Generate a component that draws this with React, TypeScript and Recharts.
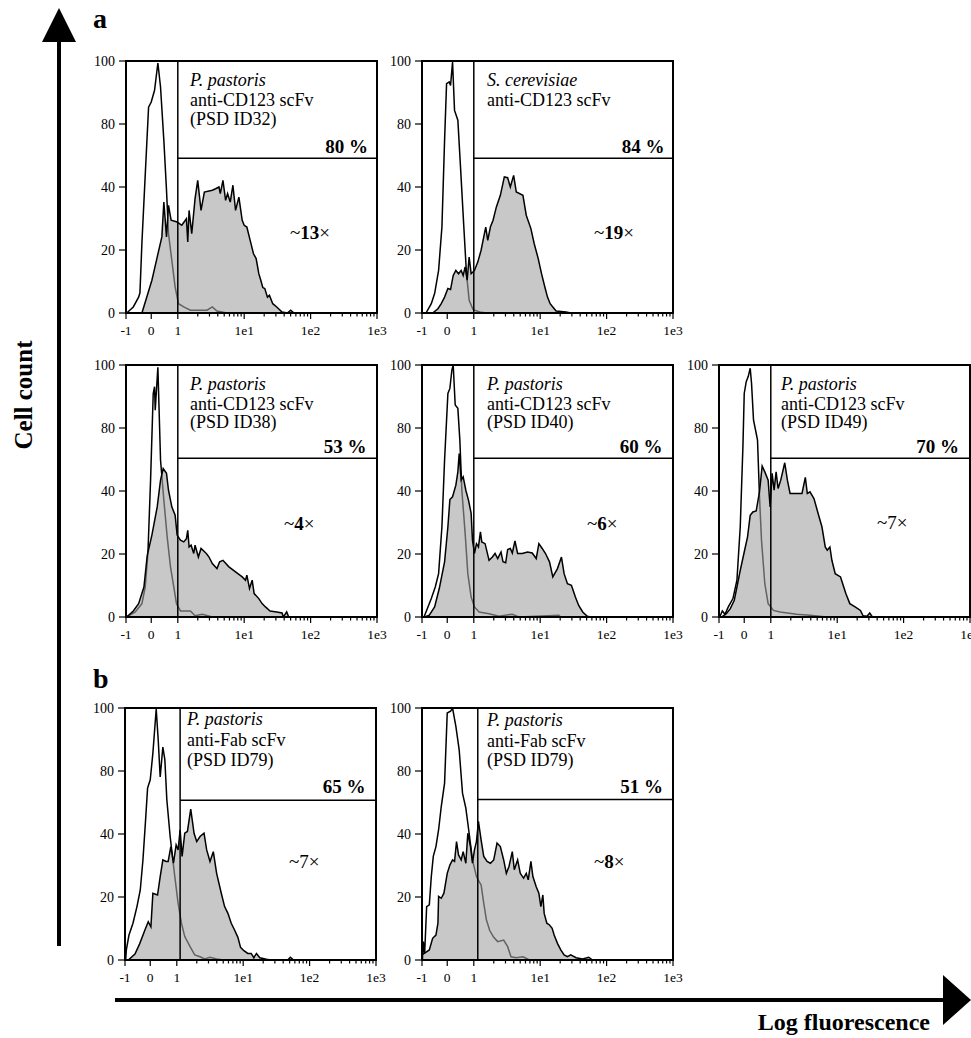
import { ComposedChart, Area, XAxis, YAxis, ReferenceLine, ReferenceArea } from 'recharts';

const FONT = '"Liberation Serif", "Times New Roman", Times, serif';

type Pt = [number, number];

// x is in "decade units": -1 -> -0.78, 0 -> -0.4, 1 -> 0, 1e1 -> 1, 1e2 -> 2, 1e3 -> 3
const U_MIN = -0.78;
const U_MAX = 3;
const X_MAJOR = [-0.78, -0.4, 0, 1, 2, 3];
const X_LABELS = ['-1', '0', '1', '1e1', '1e2', '1e3'];
const X_MINOR = [0, 1, 2].flatMap((d) => [2, 3, 4, 5, 6, 7, 8, 9].map((k) => d + Math.log10(k)));
const X_TICKS = [...X_MAJOR, ...X_MINOR];

// y ticks as printed on the figure
const Y_TICKS = [0, 25, 50, 75, 100];
const Y_LABELS = ['0', '20', '40', '80', '100'];

// control (unstained) and sample (filled) histograms, [x, count]
const p1Control: Pt[] = [[-0.77,0],[-0.67,2.4],[-0.59,6.3],[-0.57,8],[-0.54,28],[-0.49,55],[-0.44,81.7],[-0.4,83.7],[-0.35,88.4],[-0.3,99.2],[-0.26,89.7],[-0.21,68.5],[-0.17,48.7],[-0.14,31.5],[-0.09,20.9],[-0.04,10.3],[0.01,3.7],[0.09,2.4],[0.19,1.1],[0.44,1.1],[0.52,2.4],[0.59,0.8],[0.74,0]];
const p1Sample: Pt[] = [[-0.54,0],[-0.39,13],[-0.31,22.2],[-0.24,30.2],[-0.21,44],[-0.17,30.2],[-0.14,42.7],[-0.1,36.8],[-0.01,36.1],[0.06,34.8],[0.13,37.4],[0.15,28.2],[0.17,40.7],[0.21,31.5],[0.26,45.4],[0.3,52.6],[0.35,40.7],[0.4,48],[0.52,48.7],[0.57,49.3],[0.62,50],[0.64,47.4],[0.68,52.6],[0.72,44.7],[0.75,47.4],[0.79,44],[0.83,50.7],[0.87,40.7],[0.92,46],[0.97,36.8],[1,34.8],[1.04,34.1],[1.09,28.8],[1.14,23.5],[1.18,21.6],[1.22,15.6],[1.25,13],[1.28,10.1],[1.31,9.7],[1.35,6.3],[1.38,7],[1.43,3.7],[1.49,2.4],[1.57,0.4],[1.65,0],[1.7,1.1],[1.75,0]];

const p2Control: Pt[] = [[-0.72,0],[-0.64,3.7],[-0.59,7.7],[-0.53,16.9],[-0.48,34.1],[-0.44,68.5],[-0.41,91],[-0.37,91.7],[-0.35,90.3],[-0.32,99.6],[-0.29,80.4],[-0.24,76.5],[-0.2,57.9],[-0.15,34.1],[-0.11,15.6],[-0.07,5],[-0.01,1.3],[0.09,0.4],[0.19,0]];
const p2Sample: Pt[] = [[-0.62,0],[-0.54,1.7],[-0.49,3.7],[-0.44,6.3],[-0.39,9.7],[-0.35,9.3],[-0.31,14.9],[-0.27,16.9],[-0.23,15.6],[-0.19,16.9],[-0.16,14.9],[-0.13,18.3],[-0.1,13],[-0.07,22.2],[-0.04,15.6],[0.01,16.9],[0.06,20.2],[0.11,24.9],[0.15,30.2],[0.18,34.1],[0.21,28.8],[0.25,34.1],[0.29,36.8],[0.34,42.1],[0.4,46.7],[0.46,54],[0.51,53.7],[0.55,50],[0.6,54.6],[0.64,48],[0.74,46.7],[0.79,38.8],[0.86,33.5],[0.91,27.5],[0.97,21.6],[1.02,15.6],[1.07,10.3],[1.11,6.3],[1.15,3.7],[1.19,2.4],[1.24,0.8],[1.39,0.4],[1.46,0]];

const p3Control: Pt[] = [[-0.77,0],[-0.64,2],[-0.54,5.3],[-0.49,11.9],[-0.45,25.2],[-0.41,54.3],[-0.37,88.7],[-0.35,91.4],[-0.34,82.1],[-0.3,99.1],[-0.26,62.3],[-0.21,46.4],[-0.16,31.8],[-0.11,19.9],[-0.06,11.9],[-0.02,5.3],[0.04,2.4],[0.19,2.4],[0.26,0.5],[0.37,1.1],[0.52,0]];
const p3Sample: Pt[] = [[-0.77,0],[-0.67,2.4],[-0.59,5.3],[-0.51,11.9],[-0.46,24.5],[-0.39,32.5],[-0.31,43.7],[-0.26,54.3],[-0.22,58.9],[-0.17,57],[-0.14,50.3],[-0.09,43.7],[-0.04,40.4],[-0.01,32.5],[0.04,30.5],[0.09,29.8],[0.13,31.1],[0.15,34.4],[0.17,27.8],[0.2,28.5],[0.24,25.2],[0.26,28.5],[0.31,23.8],[0.35,27.2],[0.43,25.2],[0.47,23.8],[0.52,21.2],[0.59,19.2],[0.63,21.9],[0.68,22.5],[0.77,19.9],[0.87,17.9],[0.97,15.9],[1.02,14.6],[1.04,16.6],[1.08,11.3],[1.12,14.6],[1.15,9.3],[1.22,7.3],[1.27,5.3],[1.32,4],[1.39,2.4],[1.49,2],[1.57,1.6],[1.59,0],[1.64,2],[1.67,0]];

const p4Control: Pt[] = [[-0.75,0],[-0.69,4],[-0.64,7.3],[-0.58,11.9],[-0.53,17.2],[-0.48,35.8],[-0.44,62.3],[-0.39,88.7],[-0.36,90.7],[-0.33,98],[-0.31,100],[-0.28,84.1],[-0.24,82.8],[-0.21,70.2],[-0.18,50.3],[-0.13,33.1],[-0.09,17.2],[-0.04,7.9],[0.01,4],[0.08,2],[0.23,1.3],[0.38,0.3],[0.58,1.1],[0.68,0],[1.28,0.7],[1.31,0]];
const p4Sample: Pt[] = [[-0.74,0],[-0.67,0.7],[-0.59,4],[-0.52,11.3],[-0.44,21.9],[-0.39,35.8],[-0.36,46.6],[-0.32,47.7],[-0.27,52.3],[-0.24,57.6],[-0.22,64.9],[-0.19,54.3],[-0.16,55.6],[-0.12,50.3],[-0.08,46.4],[-0.04,41.1],[-0.02,30.5],[0.01,25.2],[0.04,29.1],[0.07,27.8],[0.1,33.8],[0.12,29.8],[0.17,29.1],[0.23,22.5],[0.28,23.8],[0.32,25.2],[0.36,23.2],[0.41,25.8],[0.44,21.9],[0.48,21.5],[0.51,26.8],[0.55,27.2],[0.58,25.4],[0.62,30.2],[0.66,25.2],[0.73,25.2],[0.81,25.8],[0.88,25.4],[0.94,23.2],[0.98,29.1],[1.03,27.2],[1.08,25.2],[1.14,21.9],[1.19,15.9],[1.26,19.2],[1.32,23.8],[1.36,17.2],[1.41,13.2],[1.47,12.6],[1.53,7.9],[1.58,4.6],[1.64,2],[1.71,0.3],[1.76,0]];

const p5Control: Pt[] = [[-0.77,0],[-0.73,2.4],[-0.69,1.1],[-0.64,4],[-0.57,7.3],[-0.51,14.6],[-0.46,35.8],[-0.42,67.5],[-0.4,88.7],[-0.37,93.4],[-0.34,95.4],[-0.31,98.7],[-0.29,92.7],[-0.26,78.1],[-0.23,74.2],[-0.2,70.2],[-0.17,47.7],[-0.14,30.5],[-0.09,13.2],[-0.04,5.3],[0.04,2.6],[0.14,2],[0.39,1.1],[0.59,0.7],[0.84,0]];
const p5Sample: Pt[] = [[-0.74,0],[-0.67,1.3],[-0.61,3.3],[-0.55,6.6],[-0.51,11.9],[-0.46,18.5],[-0.4,25.8],[-0.35,31.8],[-0.31,40.4],[-0.27,41.7],[-0.22,42.1],[-0.17,49.7],[-0.13,59.9],[-0.09,57.6],[-0.04,54.3],[-0.01,43.7],[0.02,57],[0.05,50.3],[0.08,57.6],[0.11,51],[0.15,54.3],[0.21,61.2],[0.25,54.3],[0.29,49],[0.47,49],[0.52,55.4],[0.55,49],[0.59,49.7],[0.65,47],[0.72,40.4],[0.77,35.8],[0.82,27.8],[0.85,26.5],[0.89,27.8],[0.92,22.5],[0.97,17.2],[1.05,15.9],[1.09,12.6],[1.13,9.3],[1.19,5.3],[1.27,4],[1.35,2.6],[1.39,0.5],[1.45,0.3],[1.49,1.6],[1.53,0]];

const p6Control: Pt[] = [[-0.77,0],[-0.76,4],[-0.72,9.9],[-0.66,14.6],[-0.6,21.2],[-0.55,27.8],[-0.51,39.7],[-0.47,55.6],[-0.44,68.2],[-0.4,71.5],[-0.36,82.1],[-0.31,99.6],[-0.28,87.4],[-0.25,72.6],[-0.21,84.5],[-0.18,79.5],[-0.15,63.6],[-0.1,49],[-0.03,33.1],[0.02,22.5],[0.07,14.6],[0.12,9.3],[0.2,5.3],[0.27,2],[0.35,1.3],[0.42,0.4],[0.5,1.1],[0.6,0.4],[0.7,0]];
const p6Sample: Pt[] = [[-0.73,0],[-0.63,2.4],[-0.56,6.4],[-0.48,11.9],[-0.43,15.2],[-0.39,13.2],[-0.36,26.5],[-0.29,25.8],[-0.25,33.1],[-0.21,39.7],[-0.16,39.1],[-0.13,39.1],[-0.09,45],[-0.05,38.4],[-0.01,45.7],[0.02,43.7],[0.05,51.7],[0.08,41.1],[0.12,50.3],[0.16,51],[0.21,59.9],[0.26,50.3],[0.3,47],[0.35,49],[0.41,50.3],[0.45,43.7],[0.5,39.1],[0.55,43],[0.6,34.4],[0.67,26.5],[0.72,21.2],[0.77,18.5],[0.82,14.6],[0.87,11.9],[0.92,9],[0.96,5],[1.01,3.7],[1.07,2.6],[1.12,2.6],[1.16,0.9],[1.2,2.6],[1.25,0.9],[1.35,0.3],[1.42,0],[1.67,0],[1.71,1.1],[1.76,0]];

const p7Control: Pt[] = [[-0.77,0],[-0.76,7.3],[-0.74,2.6],[-0.71,21.2],[-0.67,21.9],[-0.64,33.1],[-0.61,41.1],[-0.57,45],[-0.53,51.7],[-0.49,60.9],[-0.44,70.2],[-0.4,98],[-0.35,98.7],[-0.32,100],[-0.27,92.7],[-0.22,83.4],[-0.17,66.2],[-0.12,60.3],[-0.07,50.3],[-0.02,39.7],[0.04,33.1],[0.08,31.1],[0.11,29.8],[0.15,22.5],[0.19,15.9],[0.24,11.7],[0.3,9],[0.36,7.3],[0.45,7.9],[0.51,5.3],[0.56,1.3],[0.64,0.9],[0.74,1.3],[0.84,0]];
const p7Sample: Pt[] = [[-0.78,2],[-0.67,4],[-0.62,8.6],[-0.57,9.9],[-0.54,14.6],[-0.53,25.2],[-0.49,24.5],[-0.45,26.5],[-0.4,34.4],[-0.36,37.7],[-0.32,39.7],[-0.29,39.1],[-0.26,47],[-0.23,41.7],[-0.19,39.7],[-0.16,43],[-0.12,38.4],[-0.09,50.3],[-0.05,45],[-0.02,38.4],[0.01,43.7],[0.04,47],[0.07,55],[0.11,47.7],[0.15,41.1],[0.2,39.1],[0.25,38.4],[0.3,39.7],[0.35,46.4],[0.4,45],[0.45,39.7],[0.49,34.4],[0.53,37.1],[0.58,43],[0.61,35.8],[0.66,39.7],[0.7,34.4],[0.75,32.5],[0.79,34.4],[0.82,31.8],[0.86,39.1],[0.89,33.1],[0.94,29.1],[0.98,26.5],[1.01,21.2],[1.04,25.8],[1.06,18.5],[1.1,14.6],[1.14,13.9],[1.18,12.6],[1.21,9.9],[1.26,6.6],[1.31,4],[1.36,2],[1.41,1.3],[1.46,2],[1.54,0.9],[1.64,0.4],[1.73,1.1],[1.79,0]];

// gate positions
const gateX = [0, 0, 0, 0, 0, 0.05, 0.06];
const gateY = [61.4, 61.4, 63, 63, 63, 63.4, 63.7];

// annotation texts
const species = ['P. pastoris', 'S. cerevisiae', 'P. pastoris', 'P. pastoris', 'P. pastoris', 'P. pastoris', 'P. pastoris'];
const construct = ['anti-CD123 scFv', 'anti-CD123 scFv', 'anti-CD123 scFv', 'anti-CD123 scFv', 'anti-CD123 scFv', 'anti-Fab scFv', 'anti-Fab scFv'];
const psdId = ['(PSD ID32)', '', '(PSD ID38)', '(PSD ID40)', '(PSD ID49)', '(PSD ID79)', '(PSD ID79)'];
const percent = ['80 %', '84 %', '53 %', '60 %', '70 %', '65 %', '51 %'];
const fold = ['13', '19', '4', '6', '7', '7', '8'];
const foldBold = [true, true, true, true, false, false, true];

const controls = [p1Control, p2Control, p3Control, p4Control, p5Control, p6Control, p7Control];
const samples = [p1Sample, p2Sample, p3Sample, p4Sample, p5Sample, p6Sample, p7Sample];

// layout: plot-area origin of each panel and text offsets
const PLOT_W = 251;
const layout = [
  { left: 126, top: 61, tx: 64, lines: [18.5, 39, 58], pr: 9, pc: 85, fx: 164, fc: 171 },
  { left: 422, top: 61, tx: 65, lines: [18.5, 39, 58], pr: 8.5, pc: 85, fx: 172, fc: 171 },
  { left: 126, top: 365, tx: 64, lines: [18.5, 38.5, 57], pr: 10.5, pc: 81, fx: 158, fc: 158 },
  { left: 422, top: 365, tx: 65, lines: [18.5, 38.5, 57], pr: 10.5, pc: 81, fx: 165, fc: 158 },
  { left: 719, top: 365, tx: 62, lines: [18.5, 38.5, 57], pr: 11, pc: 81, fx: 158, fc: 157 },
  { left: 125, top: 708, tx: 62, lines: [11, 31.5, 51.5], pr: 10.5, pc: 78, fx: 164, fc: 153 },
  { left: 422, top: 708, tx: 65, lines: [12, 32.5, 51.5], pr: 10, pc: 78, fx: 172, fc: 153 },
];

function buildRows(ctrl: Pt[], smp: Pt[]) {
  const rows = [
    ...ctrl.map(([u, v]) => ({ u, c: v, s: null as number | null })),
    ...smp.map(([u, v]) => ({ u, c: null as number | null, s: v })),
  ];
  rows.sort((a, b) => a.u - b.u);
  return rows;
}

function XTick(props: any) {
  const { x, y, payload } = props;
  const i = X_MAJOR.findIndex((m) => Math.abs(m - payload.value) < 1e-6);
  const major = i >= 0;
  return (
    <g>
      <line x1={x} x2={x} y1={y} y2={y + (major ? 6 : 3.5)} stroke="#000" strokeWidth={1.2} />
      {major && (
        <text x={x} y={y + 22} textAnchor="middle" fontSize={13.5} fontFamily={FONT} fill="#000">
          {X_LABELS[i]}
        </text>
      )}
    </g>
  );
}

function Histogram({ idx }: { idx: number }) {
  const L = layout[idx];
  const rows = buildRows(controls[idx], samples[idx]);
  const gx = gateX[idx];
  const gy = gateY[idx];
  return (
    <div style={{ position: 'absolute', left: L.left - 40, top: L.top - 10 }}>
      <ComposedChart width={301} height={290} data={rows} margin={{ top: 10, right: 10, left: 0, bottom: 0 }}>
        <XAxis
          dataKey="u"
          type="number"
          domain={[U_MIN, U_MAX]}
          allowDataOverflow
          ticks={X_TICKS}
          interval={0}
          tick={<XTick />}
          tickLine={false}
          tickSize={0}
          tickMargin={0}
          height={28}
          axisLine={{ stroke: '#000', strokeWidth: 2 }}
        />
        <YAxis
          type="number"
          domain={[0, 100]}
          allowDataOverflow
          ticks={Y_TICKS}
          interval={0}
          width={40}
          tickSize={7}
          tickMargin={4}
          tickFormatter={(v: number) => Y_LABELS[Y_TICKS.indexOf(v)]}
          tick={{ fill: '#000', fontSize: 14, fontFamily: FONT }}
          tickLine={{ stroke: '#000', strokeWidth: 1.2 }}
          axisLine={{ stroke: '#000', strokeWidth: 2 }}
        />
        <Area type="linear" dataKey="c" connectNulls fill="none" stroke="#000" strokeWidth={1.5} dot={false} activeDot={false} isAnimationActive={false} />
        <Area type="linear" dataKey="s" connectNulls fill="#a3a3a3" fillOpacity={0.6} stroke="none" dot={false} activeDot={false} isAnimationActive={false} />
        <Area type="linear" dataKey="s" connectNulls fill="none" stroke="#000" strokeWidth={1.5} dot={false} activeDot={false} isAnimationActive={false} />
        <ReferenceLine x={gx} stroke="#000" strokeWidth={1.5} />
        <ReferenceLine segment={[{ x: gx, y: gy }, { x: U_MAX, y: gy }]} stroke="#000" strokeWidth={1.5} />
        <ReferenceArea x1={U_MIN} x2={U_MAX} y1={0} y2={100} fill="none" stroke="#000" strokeWidth={2} />
      </ComposedChart>
    </div>
  );
}

function Annotations() {
  return (
    <svg width={971} height={1038} style={{ position: 'absolute', left: 0, top: 0, pointerEvents: 'none' }} fontFamily={FONT}>
      {layout.map((L, i) => {
        const x0 = L.left + L.tx;
        return (
          <g key={i} fill="#000">
            <text x={x0} y={L.top + L.lines[0]} fontSize={18} fontStyle="italic" dominantBaseline="central">{species[i]}</text>
            <text x={x0} y={L.top + L.lines[1]} fontSize={18} dominantBaseline="central">{construct[i]}</text>
            {psdId[i] && <text x={x0} y={L.top + L.lines[2]} fontSize={18} dominantBaseline="central">{psdId[i]}</text>}
            <text x={L.left + PLOT_W - L.pr} y={L.top + L.pc} fontSize={19} fontWeight="bold" textAnchor="end" dominantBaseline="central">{percent[i]}</text>
            <text x={L.left + L.fx} y={L.top + L.fc} fontSize={19} dominantBaseline="central">
              <tspan>~</tspan>
              <tspan fontWeight={foldBold[i] ? 'bold' : 'normal'}>{fold[i]}</tspan>
              <tspan>×</tspan>
            </text>
          </g>
        );
      })}
      <text x={93} y={28} fontSize={28} fontWeight="bold">a</text>
      <text x={93} y={688} fontSize={28} fontWeight="bold">b</text>
      {/* axis arrows */}
      <line x1={59} y1={946} x2={59} y2={38} stroke="#000" strokeWidth={4} />
      <polygon points="59,8 42,42 76,42" fill="#000" />
      <line x1={115} y1={1000} x2={946} y2={1000} stroke="#000" strokeWidth={4} />
      <polygon points="971,1000 943,975 943,1025" fill="#000" />
      <text x={930} y={1030} fontSize={24} fontWeight="bold" textAnchor="end">Log fluorescence</text>
      <text x={0} y={0} fontSize={25} fontWeight="bold" textAnchor="middle" dominantBaseline="central" transform="translate(23,395) rotate(-90)">Cell count</text>
    </svg>
  );
}

export default function App() {
  return (
    <div style={{ position: 'absolute', left: 0, top: 0, width: 971, height: 1038, overflow: 'hidden', background: '#fff', fontFamily: FONT }}>
      {layout.map((_, i) => (
        <Histogram key={i} idx={i} />
      ))}
      <Annotations />
    </div>
  );
}
